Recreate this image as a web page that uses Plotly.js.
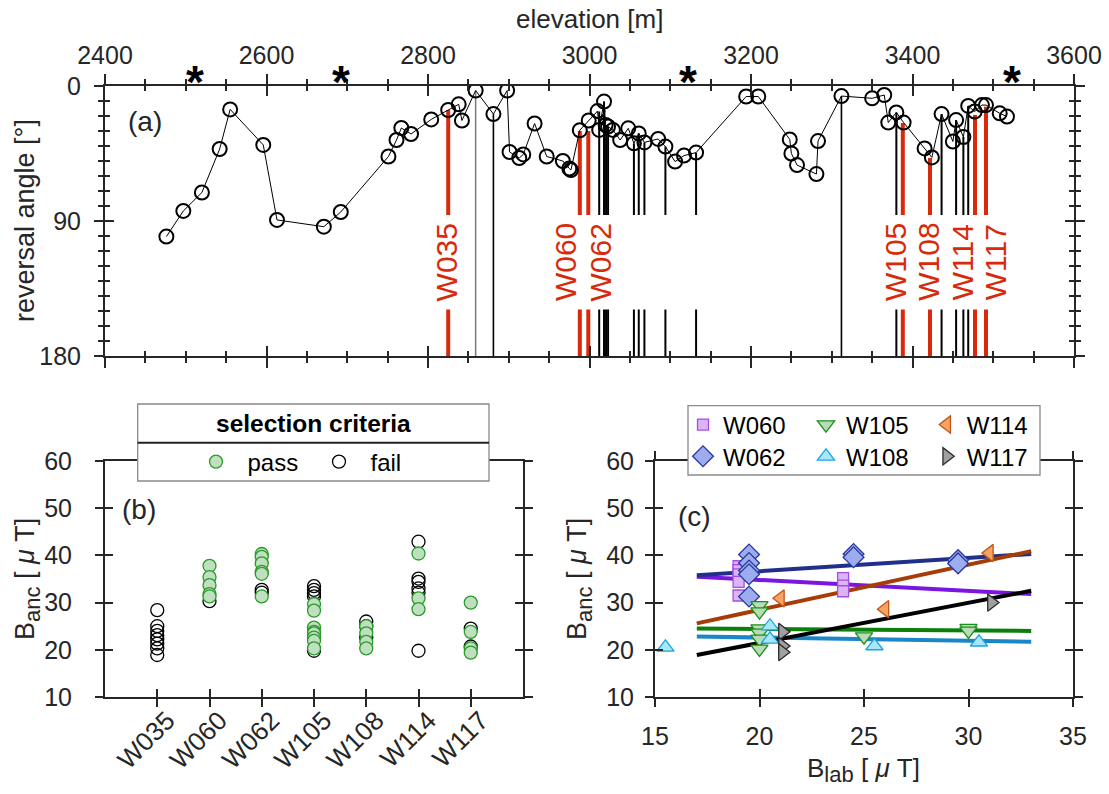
<!DOCTYPE html>
<html><head><meta charset="utf-8">
<script src="https://cdn.plot.ly/plotly-3.0.1.min.js"></script>
<style>html,body{margin:0;padding:0;background:#fff}#chart{width:1109px;height:794px}</style>
</head><body><div id="chart"></div>
<script>
// ---------- Panel (a): reversal angle vs elevation ----------
const elevation = [2476,2497,2520,2542,2555,2596,2613,2671,2692,2751,2761,2767,2779,2804,2825,2838,2842,2859,2881,2898,2901,2913,2918,2932,2947,2967,2975,2977,2988,2999,3010,3012,3018,3020,3023,3029,3038,3048,3055,3061,3068,3085,3094,3106,3117,3132,3194,3209,3248,3250,3257,3281,3283,3312,3350,3365,3370,3380,3389,3415,3424,3436,3450,3454,3463,3469,3477,3486,3491,3508,3517];
const reversalAngle = [100.4,83.3,71,42,15.6,39.3,89.3,93.8,84,47,36,28,32,22.3,16,12.2,23,3,18.7,3,44,48,45.6,25,47,50,55,56,29.5,23,16.7,29.3,10.4,26,27,29.3,36,28.2,38.2,31.6,37.6,35.3,40.4,50.4,46.4,44.4,7,7,35.6,45,52.7,58.7,36.7,6.7,8.2,6,24.4,17.6,24.4,41.6,47.6,18.7,37,22.7,34,13.3,17,12.7,12.7,18.2,20.4];
const starElevation = [2512, 2692, 3122, 3523];
const grayLineElevation = [2859];
const grayLineAngle = [3];
const fullLineElevation = [2881, 3312];
const fullLineAngle = [18.7, 6.7];
const sampleLineElevation = [3012, 3018, 3020.5, 3023, 3055, 3061, 3068, 3094, 3132, 3380, 3436, 3454, 3463, 3469];
const sampleLineAngle = [17, 10.4, 26, 27, 38.2, 31.6, 37.6, 40.4, 44.4, 17.6, 18.7, 22.7, 34, 13.3];
const siteNames = ['W035','W060','W062','W105','W108','W114','W117'];
const siteElevation = [2825, 2988, 2998.5, 3388, 3421.7, 3477.4, 3491];
const siteAngle = [16, 30, 30, 24.7, 48, 19.3, 13.8];

// ---------- Panel (b): B_anc per site, pass / fail ----------
const passW035 = [];
const failW035 = [28.4, 25.0, 24.0, 23.1, 22.2, 21.3, 20.3, 18.9];
const passW060 = [37.8, 35.4, 33.7, 31.8, 31.3];
const failW060 = [30.3];
const passW062 = [40.3, 39.7, 38.3, 36.5, 36.1, 31.3];
const failW062 = [32.7, 32.1];
const passW105 = [29.7, 28.3, 24.7, 23.8, 23.5, 22.6, 21.9, 20.3];
const failW105 = [33.5, 32.7, 32.0, 31.3, 19.8];
const passW108 = [25.0, 23.5, 21.7, 20.3];
const failW108 = [26.0, 25.0, 22.6];
const passW114 = [40.4, 30.9, 28.6];
const failW114 = [42.9, 35.1, 34.4, 33.0, 32.1, 19.8];
const passW117 = [30.0, 23.8, 20.3, 19.4];
const failW117 = [24.5, 20.7];

// ---------- Panel (c): B_anc vs B_lab ----------
const blabW060 = [19, 19, 19, 19, 19, 24, 24, 24];
const bancW060 = [37.7, 36.9, 36.0, 34.4, 31.5, 35.2, 33.6, 32.4];
const blabW062 = [19.5, 19.5, 19.5, 19.5, 19.5, 24.5, 24.5, 29.5, 29.5];
const bancW062 = [40.2, 38.4, 36.8, 36.0, 31.3, 40.3, 39.6, 39.0, 38.3];
const blabW105 = [20, 20, 20, 20, 20, 20, 25, 30, 30];
const bancW105 = [29.4, 28.1, 24.5, 23.6, 22.3, 20.2, 22.8, 24.6, 24.0];
const blabW108 = [15.5, 20.5, 20.5, 25.5, 30.5];
const bancW108 = [20.5, 25.0, 22.2, 20.8, 21.6];
const blabW114 = [21, 26, 31];
const bancW114 = [30.9, 28.6, 40.5];
const blabW117 = [21.1, 21.1, 21.1, 31.1];
const bancW117 = [23.8, 20.8, 19.5, 30.0];
const fitBlab = [17, 33];
const fitW060 = [35.5, 31.8];
const fitW062 = [35.8, 40.3];
const fitW105 = [24.5, 24.0];
const fitW108 = [22.8, 21.7];
const fitW114 = [25.6, 40.9];
const fitW117 = [18.9, 32.5];

// ---------- layout helpers ----------
const W = 1109, H = 794;
const px = v => v / W, py = v => 1 - v / H;
const AX = '#262626', RED = '#d9290b';
const FONT = 'Liberation Sans, Arial, Helvetica, sans-serif';
const gapTop = 86, gapBottom = 149; // label band in panel (a)
const labelShift = [-2, -15, 12, -8, -1.5, -13, 9];
const LEGPAD = '\u00a0\u2009';

function baseAxis(o) {
  return Object.assign({showline: true, linecolor: AX, linewidth: 2, ticks: 'outside', ticklen: 8,
    tickwidth: 2, tickcolor: AX, mirror: 'ticks', showgrid: false, zeroline: false,
    tickfont: {size: 25, color: AX, family: FONT}, fixedrange: true}, o);
}
function innerAxis(o) { return baseAxis(Object.assign({ticks: 'inside', showticklabels: false}, o)); }

function verticalLines(xs, ys, withGap) {
  const X = [], Y = [];
  xs.forEach((x, i) => {
    if (withGap) { X.push(x, x, null, x, x, null); Y.push(ys[i], gapTop, null, gapBottom, 180, null); }
    else { X.push(x, x, null); Y.push(ys[i], 180, null); }
  });
  return {X, Y};
}

const traces = [];
const g = verticalLines(grayLineElevation, grayLineAngle, false);
traces.push({x: g.X, y: g.Y, mode: 'lines', line: {color: '#7a7a7a', width: 1.5}, showlegend: false, xaxis: 'x', yaxis: 'y'});
const f = verticalLines(fullLineElevation, fullLineAngle, false);
traces.push({x: f.X, y: f.Y, mode: 'lines', line: {color: '#000', width: 1.6}, showlegend: false, xaxis: 'x', yaxis: 'y'});
const s = verticalLines(sampleLineElevation, sampleLineAngle, true);
traces.push({x: s.X, y: s.Y, mode: 'lines', line: {color: '#000', width: 2}, showlegend: false, xaxis: 'x', yaxis: 'y'});
const r = verticalLines(siteElevation, siteAngle, true);
traces.push({x: r.X, y: r.Y, mode: 'lines', line: {color: RED, width: 4}, showlegend: false, xaxis: 'x', yaxis: 'y'});
traces.push({x: elevation, y: reversalAngle, mode: 'lines+markers', line: {color: '#000', width: 1},
  marker: {symbol: 'circle-open', size: 14, color: '#000', line: {width: 2}}, showlegend: false, xaxis: 'x', yaxis: 'y'});

// Panel (b)
const passSets = [passW035, passW060, passW062, passW105, passW108, passW114, passW117];
const failSets = [failW035, failW060, failW062, failW105, failW108, failW114, failW117];
const bx = (sets) => sets.flatMap((v, i) => v.map(() => siteNames[i]));
traces.push({x: bx(failSets), y: failSets.flat(), mode: 'markers', name: LEGPAD + 'fail', legend: 'legend2',
  marker: {symbol: 'circle-open', size: 13, color: '#000', line: {width: 1.3}}, xaxis: 'x2', yaxis: 'y2', cliponaxis: false});
traces.push({x: bx(passSets), y: passSets.flat(), mode: 'markers', name: LEGPAD + 'pass', legend: 'legend',
  marker: {symbol: 'circle', size: 13, color: '#bfe0bf', line: {width: 1.3, color: '#2a9a2a'}}, xaxis: 'x2', yaxis: 'y2', cliponaxis: false});

// Panel (c)
const fits = [[fitW060, '#7a16e0'], [fitW062, '#1f2f8a'], [fitW105, '#0a800a'], [fitW108, '#1a86c8'], [fitW114, '#a83c06'], [fitW117, '#000000']];
fits.forEach(([fy, col]) => traces.push({x: fitBlab, y: fy, mode: 'lines', line: {color: col, width: 4}, showlegend: false, xaxis: 'x3', yaxis: 'y3'}));
const cSets = [
  ['W060', blabW060, bancW060, 'square', 11, '#dcb4f4', '#a44ee6', 'legend3'],
  ['W062', blabW062, bancW062, 'diamond', 16, '#9cacee', '#26389c', 'legend4'],
  ['W105', blabW105, bancW105, 'triangle-down', 15, '#b8dcb8', '#1a901a', 'legend5'],
  ['W108', blabW108, bancW108, 'triangle-up', 15, '#a8e6fa', '#1ea4e0', 'legend6'],
  ['W114', blabW114, bancW114, 'triangle-left', 15, '#f6a460', '#c0561a', 'legend7'],
  ['W117', blabW117, bancW117, 'triangle-right', 15, '#a0a0a0', '#2a2a2a', 'legend8']
];
cSets.forEach(([nm, xs, ys, sym, sz, fill, edge, lg]) => traces.push({x: xs, y: ys, mode: 'markers', name: nm, legend: lg,
  marker: {symbol: sym, size: sz, color: fill, line: {width: 1.3, color: edge}}, xaxis: 'x3', yaxis: 'y3', cliponaxis: false}));

// dummy traces so the overlay tick axes exist
[['x4', 'y'], ['x', 'y4'], ['x5', 'y2'], ['x2', 'y5'], ['x6', 'y3'], ['x3', 'y6']].forEach(([xa, ya]) =>
  traces.push({x: [], y: [], xaxis: xa, yaxis: ya, showlegend: false, hoverinfo: 'skip', mode: 'markers'}));

function legendAt(mx, my) {
  return {x: px(mx - 20), y: py(my), xanchor: 'left', yanchor: 'middle', bgcolor: 'rgba(0,0,0,0)', borderwidth: 0,
    font: {size: 24, family: FONT, color: '#000'}, orientation: 'v', itemclick: false, itemdoubleclick: false};
}

const aX = {range: [2400, 3600], tickmode: 'linear', tick0: 2400, dtick: 200, side: 'top', anchor: 'y', ticklen: 10};
const aY = {range: [180, 0], tickmode: 'linear', tick0: 0, dtick: 90, anchor: 'x', ticklen: 9};
const minorA = (t) => ({tickmode: 'linear', ticks: t, ticklen: 5, tickwidth: 2, tickcolor: AX});
const bcY = {range: [10, 60], tickmode: 'linear', tick0: 10, dtick: 10};

function note(text, x, y, size, extra) {
  return Object.assign({text: text, x: px(x), y: py(y), xref: 'paper', yref: 'paper', xanchor: 'center', yanchor: 'middle',
    showarrow: false, font: {size: size, family: FONT, color: AX}}, extra || {});
}
const sub = t => '<sub><span style="font-size:22px">' + t + '</span></sub>';
const annotations = [
  note('elevation [m]', 589.5, 19, 26),
  note('reversal angle [°]', 25, 221, 27, {textangle: -90}),
  note('B' + sub('anc') + ' [ <i>μ</i> T]', 27, 579, 27, {textangle: -90}),
  note('B' + sub('anc') + ' [ <i>μ</i> T]', 579, 579, 27, {textangle: -90}),
  note('B' + sub('lab') + ' [ <i>μ</i> T]', 863, 770, 26),
  note('(a)', 145, 121, 28),
  note('(b)', 139, 509, 28),
  note('(c)', 694.5, 516, 28),
  note('<b>selection criteria</b>', 313, 423, 24.5, {font: {size: 24.5, family: FONT, color: '#000'}})
];
starElevation.forEach(e => annotations.push({text: '<b>*</b>', x: e, xref: 'x', y: py(82), yref: 'paper', xanchor: 'center', yanchor: 'middle',
  showarrow: false, font: {size: 46, family: FONT, color: '#000'}}));
siteNames.forEach((nm, i) => annotations.push({text: nm, x: siteElevation[i], y: (gapTop + gapBottom) / 2, xref: 'x', yref: 'y',
  xanchor: 'center', yanchor: 'middle', xshift: labelShift[i], showarrow: false, textangle: -90, font: {size: 30, family: FONT, color: RED}}));

const layout = {
  width: W, height: H, margin: {l: 0, r: 0, t: 0, b: 0, autoexpand: false},
  paper_bgcolor: '#fff', plot_bgcolor: 'rgba(0,0,0,0)', showlegend: true,
  font: {family: FONT, color: AX},
  xaxis: baseAxis(Object.assign({domain: [px(105), px(1074)], minor: Object.assign({tick0: 2400, dtick: 50}, minorA('outside')), ticklabelstandoff: 0}, aX)),
  xaxis4: innerAxis(Object.assign({overlaying: 'x', minor: Object.assign({tick0: 2400, dtick: 50}, minorA('inside'))}, aX)),
  yaxis: baseAxis(Object.assign({domain: [py(356), py(86)], ticklen: 5, minor: Object.assign({tick0: 0, dtick: 10}, minorA('outside')), ticklabelstandoff: 8}, aY)),
  yaxis4: innerAxis(Object.assign({overlaying: 'y', minor: Object.assign({tick0: 0, dtick: 10}, minorA('inside'))}, aY)),
  xaxis2: baseAxis({domain: [px(105), px(523)], anchor: 'y2', type: 'category', categoryorder: 'array', categoryarray: siteNames, range: [-1, 7], tickangle: -45, ticklabelshift: 10, ticklabelstandoff: -12, tickfont: {size: 26, color: AX, family: FONT}}),
  xaxis5: innerAxis({overlaying: 'x2', anchor: 'y2', range: [-1, 7], tickmode: 'array', tickvals: siteNames.map((_, i) => i)}),
  yaxis2: baseAxis(Object.assign({domain: [py(697), py(461)], anchor: 'x2', ticklabelstandoff: 18}, bcY)),
  yaxis5: innerAxis(Object.assign({overlaying: 'y2', anchor: 'x2'}, bcY)),
  xaxis3: baseAxis({domain: [px(655), px(1073)], anchor: 'y3', range: [15, 35], tickmode: 'linear', tick0: 15, dtick: 5, ticklabelstandoff: 8}),
  xaxis6: innerAxis({overlaying: 'x3', anchor: 'y3', range: [15, 35], tickmode: 'linear', tick0: 15, dtick: 5}),
  yaxis3: baseAxis(Object.assign({domain: [py(697), py(461)], anchor: 'x3', ticklabelstandoff: 6}, bcY)),
  yaxis6: innerAxis(Object.assign({overlaying: 'y3', anchor: 'x3'}, bcY)),
  legend: legendAt(216, 462), legend2: legendAt(339, 462),
  legend3: legendAt(703, 425), legend4: legendAt(703, 456.7),
  legend5: legendAt(826, 425), legend6: legendAt(826, 456.7),
  legend7: legendAt(946.7, 425), legend8: legendAt(946.7, 456.7),
  shapes: [
    {type: 'rect', xref: 'paper', yref: 'paper', x0: px(137.7), x1: px(489), y0: py(481), y1: py(404), fillcolor: '#fff', line: {color: '#8a8a8a', width: 1.3}, layer: 'above'},
    {type: 'line', xref: 'paper', yref: 'paper', x0: px(137.7), x1: px(489), y0: py(442.7), y1: py(442.7), line: {color: '#222', width: 2}, layer: 'above'},
    {type: 'rect', xref: 'paper', yref: 'paper', x0: px(688), x1: px(1040), y0: py(475), y1: py(405.7), fillcolor: '#fff', line: {color: '#8a8a8a', width: 1.3}, layer: 'above'}
  ],
  annotations: annotations
};
Plotly.newPlot('chart', traces, layout, {displayModeBar: false, staticPlot: true});
</script></body></html>
